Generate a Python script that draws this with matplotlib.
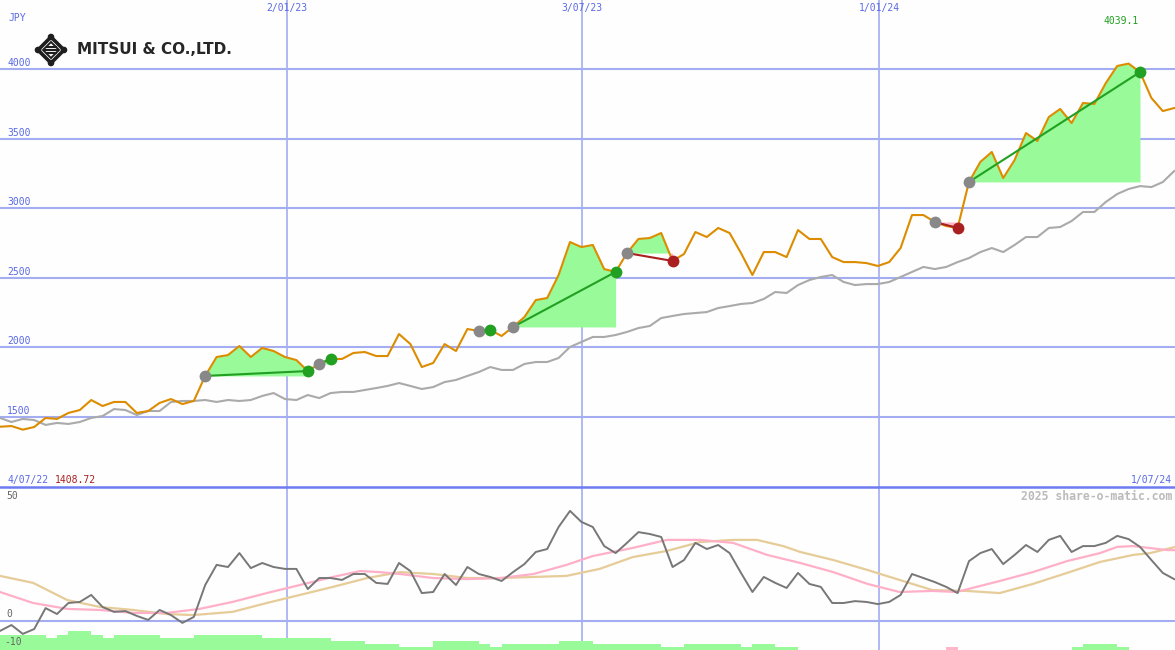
#!usr/bin/env python3

import numpy as np
import matplotlib
matplotlib.use("Agg")
import matplotlib.pyplot as plt
from matplotlib.patches import Polygon, Circle

# weekly closing price, JPY (4/07/22 .. 1/07/24)
price = [1430, 1435, 1409, 1428, 1493, 1486, 1529, 1550, 1622, 1579,
         1608, 1608, 1529, 1543, 1601, 1629, 1593, 1615, 1795, 1931,
         1945, 2010, 1931, 1996, 1974, 1931, 1909, 1830, 1881, 1917,
         1917, 1960, 1967, 1938, 1938, 2096, 2024, 1859, 1888, 2024,
         1974, 2132, 2118, 2125, 2082, 2147, 2218, 2340, 2355, 2520,
         2757, 2721, 2736, 2563, 2542, 2678, 2779, 2786, 2822, 2621,
         2671, 2829, 2793, 2858, 2822, 2678, 2520, 2685, 2685, 2649,
         2843, 2779, 2779, 2649, 2613, 2613, 2606, 2585, 2613, 2714,
         2951, 2951, 2901, 2872, 2858, 3189, 3333, 3404, 3217, 3346,
         3540, 3483, 3655, 3713, 3612, 3756, 3749, 3899, 4022, 4039.1,
         3978, 3792, 3698, 3720]

# slow moving average
avg = [1493, 1464, 1486, 1478, 1443, 1457, 1450, 1464, 1493, 1507,
       1557, 1550, 1514, 1543, 1543, 1608, 1615, 1615, 1622, 1608,
       1622, 1615, 1622, 1651, 1672, 1629, 1622, 1658, 1636, 1672,
       1680, 1680, 1694, 1708, 1723, 1744, 1723, 1701, 1715, 1751,
       1766, 1795, 1823, 1859, 1838, 1838, 1881, 1895, 1895, 1924,
       2003, 2039, 2075, 2075, 2089, 2111, 2139, 2154, 2211, 2226,
       2240, 2247, 2254, 2283, 2297, 2312, 2319, 2348, 2398, 2391,
       2448, 2484, 2506, 2520, 2470, 2448, 2455, 2455, 2470, 2506,
       2542, 2578, 2563, 2578, 2613, 2642, 2685, 2714, 2685, 2736,
       2793, 2793, 2858, 2865, 2908, 2973, 2973, 3045, 3102, 3138,
       3159, 3152, 3188, 3267]

# trades: (entry week, exit week)
trades = [(18, 27), (28, 29), (42, 43), (45, 54), (55, 59), (82, 84), (85, 100)]

# lower panel oscillator
osc = [-3.7, -1.5, -4.8, -3.0, 4.8, 2.6, 6.7, 7.1, 9.7, 5.2,
       3.4, 3.7, 1.9, 0.4, 4.1, 2.2, -0.7, 1.5, 13.4, 20.9,
       20.1, 25.3, 19.7, 21.6, 20.1, 19.4, 19.4, 11.9, 16.0, 16.0,
       15.3, 17.5, 17.5, 14.2, 13.8, 21.6, 18.6, 10.4, 10.8, 17.5,
       13.4, 20.1, 17.5, 16.4, 14.9, 18.2, 21.2, 25.7, 26.8, 35.0,
       41.0, 36.9, 35.0, 27.9, 25.3, 29.1, 33.1, 32.4, 31.3, 20.1,
       22.7, 29.1, 26.8, 28.3, 25.3, 17.9, 10.8, 16.4, 14.2, 12.3,
       17.9, 13.8, 12.7, 6.7, 6.7, 7.4, 7.1, 6.3, 7.1, 9.7,
       17.5, 16.0, 14.5, 12.7, 10.4, 22.3, 25.3, 26.8, 21.2, 24.6,
       28.3, 25.7, 30.2, 31.7, 25.7, 27.9, 27.9, 29.1, 31.7, 30.5,
       27.6, 22.7, 17.9, 15.6]

pink_x = [0, 2.9, 5.9, 8.8, 11.7, 14.6, 17.5, 20.4, 23.4, 26.3, 29.2, 31.6,
          33.3, 35.1, 38.0, 41.0, 43.9, 46.8, 49.7, 52.0, 55.5, 58.5, 61.4,
          64.3, 67.3, 70.2, 73.1, 76.1, 78.9, 81.8, 83.9, 87.7, 90.6, 93.6,
          96.5, 98.0, 99.4, 102.4, 103.1]
pink_v = [10.8, 6.7, 4.5, 4.1, 3.0, 3.0, 4.5, 7.1, 10.4, 13.4, 16.4, 18.6,
          18.2, 17.5, 16.0, 15.6, 16.0, 17.5, 20.9, 24.2, 27.2, 30.2, 30.2,
          29.1, 24.6, 21.6, 18.2, 13.8, 10.8, 11.2, 10.8, 14.9, 18.2, 22.3,
          25.3, 27.6, 27.9, 26.4, 26.4]

tan_x = [0, 2.9, 5.9, 8.8, 11.7, 14.6, 16.9, 20.4, 23.4, 26.3, 29.2, 32.2,
         35.1, 38.0, 41.0, 43.9, 49.7, 52.6, 55.5, 58.5, 61.4, 64.3, 66.4,
         68.7, 70.2, 73.1, 76.1, 78.9, 81.8, 84.8, 87.7, 90.6, 93.6, 96.5,
         99.4, 100.9, 103.1]
tan_v = [16.8, 14.2, 7.8, 5.2, 4.1, 2.6, 2.2, 3.4, 6.7, 9.7, 12.7, 16.0,
         18.2, 17.5, 16.0, 16.0, 16.8, 19.4, 23.8, 26.1, 29.4, 30.2, 30.2,
         27.9, 25.7, 22.7, 19.0, 15.3, 11.5, 11.2, 10.4, 13.8, 17.9, 22.0,
         24.6, 25.3, 27.6]

# signal bars (negative = pink)
bars = [5, 5, 5, 5, 4, 5, 6.3, 6.3, 5, 4,
        5, 5, 5, 5, 4, 4, 4, 5, 5, 5,
        5, 5, 5, 4, 4, 4, 4, 4, 4, 3,
        3, 3, 2, 2, 2, 1, 1, 1, 3, 3,
        3, 3, 2, 1, 2, 2, 2, 2, 2, 3,
        3, 3, 2, 2, 2, 2, 2, 2, 1, 1,
        2, 2, 2, 2, 2, 1, 2, 2, 1, 1,
        0, 0, 0, 0, 0, 0, 0, 0, 0, 0,
        0, 0, 0, -1, 0, 0, 0, 0, 0, 0,
        0, 0, 0, 0, 1, 2, 2, 2, 1, 0,
        0, 0, 0, 0]

date_pos = [25.2, 51.05, 77.1]
date_labels = ["2/01/23", "3/07/23", "1/01/24"]
price_ticks = [1500, 2000, 2500, 3000, 3500, 4000]

BG = "#fdfefd"
GRID = "#a4acf2"
BLUE = "#5a68e6"
MONO = "DejaVu Sans Mono"


def main():
	weeks = np.arange(len(price))
	p = np.array(price, dtype=float)
	xmax = 1175 / 11.4

	fig = plt.figure(figsize=(11.75, 6.5), dpi=100, facecolor=BG)
	ax = fig.add_axes([0, 163 / 650, 1, 487 / 650], facecolor=BG)
	axb = fig.add_axes([0, 0, 1, 163 / 650], facecolor=BG)

	# main price panel
	for t in price_ticks:
		ax.axhline(t, color=GRID, lw=1.5, zorder=1)
	for d in date_pos:
		ax.axvline(d, color=GRID, lw=1.2, zorder=1)
		axb.axvline(d, color=GRID, lw=1.2, zorder=1)

	ax.plot(weeks, avg, color="#aaaaaa", lw=1.5, zorder=2)

	for e, x in trades:
		xs = weeks[e:x + 1]
		ps = p[e:x + 1]
		base = p[e]
		ax.fill_between(xs, ps, base, where=ps >= base, interpolate=True,
						color="#98fa98", lw=0, zorder=3)
		ax.fill_between(xs, ps, base, where=ps < base, interpolate=True,
						color="#ffb6c8", lw=0, zorder=3)

	ax.plot(weeks, p, color="#dd8c00", lw=1.5, zorder=4)

	for e, x in trades:
		win = p[x] >= p[e]
		col = "#22a022" if win else "#aa2020"
		ax.plot([e, x], [p[e], p[x]], color=col, lw=1.5, zorder=5)
		ax.plot(e, p[e], "o", color="#888888", ms=8.5, mew=0, zorder=6)
		ax.plot(x, p[x], "o", color=col, ms=8.5, mew=0, zorder=6)

	ax.set_xlim(0, xmax)
	ax.set_ylim(997, 4496)
	ax.axis("off")

	# lower panel
	axb.axhline(0, color=GRID, lw=1.5, zorder=1)
	axb2 = axb.twinx()
	bv = np.array(bars, dtype=float)
	bcol = ["#98fa98" if b >= 0 else "#ffb6c8" for b in bv]
	axb2.bar(weeks, np.abs(bv), width=1, align="edge", color=bcol, lw=0)
	axb2.set_ylim(0, 163 / 3)
	axb2.axis("off")

	axb.plot(tan_x, tan_v, color="#e6cc98", lw=1.6, zorder=3)
	axb.plot(pink_x, pink_v, color="#ffb0c8", lw=1.6, zorder=3)
	axb.plot(weeks, osc, color="#777777", lw=1.4, zorder=4)
	axb.set_xlim(0, xmax)
	axb.set_ylim(-10.8, 49.9)
	axb.axis("off")

	# overlay for labels and logo (pixel coordinates)
	ov = fig.add_axes([0, 0, 1, 1])
	ov.set_xlim(0, 1175)
	ov.set_ylim(650, 0)
	ov.axis("off")
	ov.patch.set_alpha(0)

	ov.axhline(487, color="#6c7cf0", lw=1.8)
	ov.text(8, 18, "JPY", color=BLUE, family=MONO, fontsize=7, va="center")
	for t in price_ticks:
		y = 69 + (4000 - t) * 0.1392
		ov.text(7, y - 6, str(t), color=BLUE, family=MONO, fontsize=7, va="center")
	for d, lab in zip(date_pos, date_labels):
		ov.text(d * 11.4, 8, lab, color=BLUE, family=MONO, fontsize=7,
				va="center", ha="center")
	ov.text(1121, 21, "4039.1", color="#20a020", family=MONO, fontsize=7,
			va="center", ha="center")
	ov.text(7, 480, "4/07/22", color=BLUE, family=MONO, fontsize=7, va="center")
	ov.text(55, 480, "1408.72", color="#aa2020", family=MONO, fontsize=7, va="center")
	ov.text(1172, 480, "1/07/24", color=BLUE, family=MONO, fontsize=7,
			va="center", ha="right")
	ov.text(1172, 496, "2025 share-o-matic.com", color="#bbbbbb", family=MONO,
			fontsize=8.3, fontweight="bold", va="center", ha="right")
	ov.text(6, 496, "50", color="#666666", family=MONO, fontsize=7, va="center")
	ov.text(6, 614, "0", color="#666666", family=MONO, fontsize=7, va="center")
	ov.text(4, 642, "-10", color="#666666", family=MONO, fontsize=7, va="center")

	# logo
	cx, cy, r = 51, 50, 13
	ov.add_patch(Polygon([(cx, cy - r), (cx + r, cy), (cx, cy + r), (cx - r, cy)],
						 closed=True, fill=False, ec="#1e1e1e", lw=2.6))
	for dx, dy in [(0, -r), (r, 0), (0, r), (-r, 0)]:
		ov.add_patch(Circle((cx + dx, cy + dy), 2.6, color="#1e1e1e"))
	r2 = 8
	ov.add_patch(Polygon([(cx, cy - r2), (cx + r2, cy), (cx, cy + r2), (cx - r2, cy)],
						 closed=True, fill=False, ec="#1e1e1e", lw=1.4))
	for dy, hw in [(-3, 4.5), (0, 6), (3, 4.5)]:
		ov.plot([cx - hw, cx + hw], [cy + dy, cy + dy], color="#1e1e1e", lw=1.5)
	ov.text(77, 50, "MITSUI & CO.,LTD.", color="#262626", family="DejaVu Sans",
			fontsize=11, fontweight="bold", va="center")

	fig.savefig("out.png", dpi=100, facecolor=BG)


if __name__ == "__main__":
	main()
